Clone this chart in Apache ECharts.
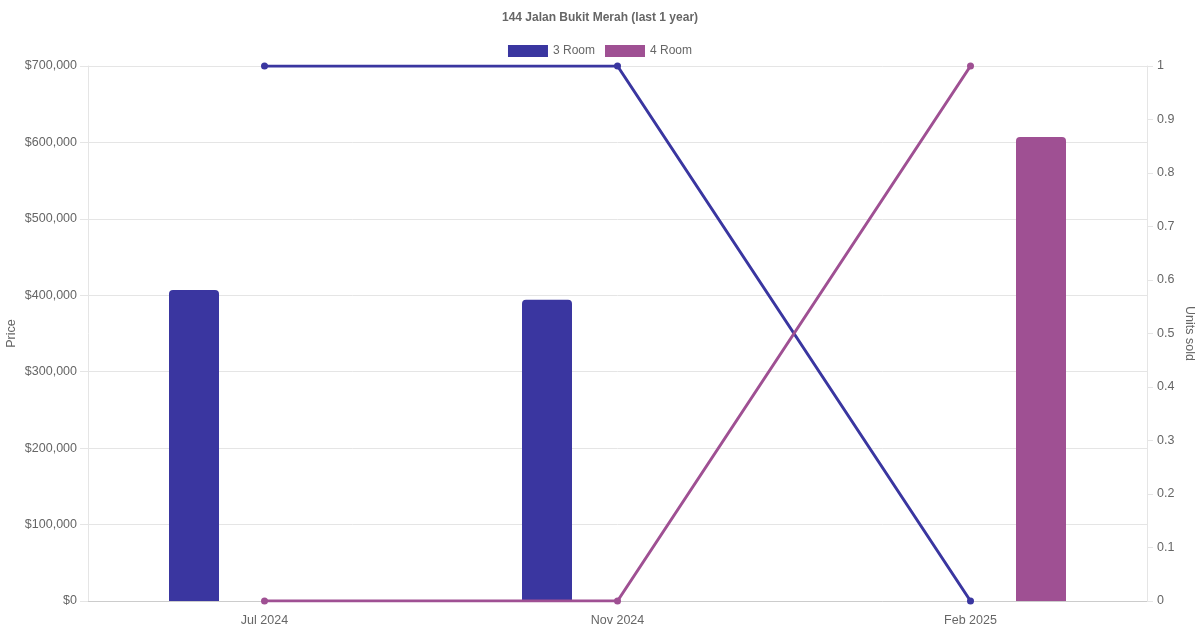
<!DOCTYPE html>
<html><head><meta charset="utf-8">
<script src="https://cdn.jsdelivr.net/npm/echarts@6/dist/echarts.min.js"></script>
<style>html,body{margin:0;padding:0;background:#fff}#c{width:1200px;height:630px}</style>
</head><body><div id="c"></div>
<script>
const title = '144 Jalan Bukit Merah (last 1 year)';
const categories = ['Jul 2024', 'Nov 2024', 'Feb 2025'];
const price3Room = [407000, 394000, null];
const price4Room = [null, null, 607000];
const units3Room = [1, 1, 0];
const units4Room = [0, 0, 1];
const priceTicks = [0, 100000, 200000, 300000, 400000, 500000, 600000, 700000];

const C3 = '#3a36a0', C4 = '#9f5093';
const font = 'Liberation Sans, Arial, sans-serif';
const chart = echarts.init(document.getElementById('c'), null, {renderer: 'canvas'});
chart.setOption({
  animation: false,
  textStyle: {fontFamily: font},
  title: {text: title, left: 'center', top: 7, textStyle: {fontSize: 12, fontWeight: 'bold', color: '#666', fontFamily: font}},
  legend: {
    top: 40, left: 'center', itemWidth: 40, itemHeight: 12, itemGap: 10,
    textStyle: {fontSize: 12, color: '#666', fontFamily: font},
    data: [{name: '3 Room', icon: 'rect'}, {name: '4 Room', icon: 'rect'}]
  },
  grid: {left: 88, right: 53, top: 66, bottom: 29, containLabel: false, outerBoundsMode: 'none'},
  xAxis: {
    type: 'category', data: categories, boundaryGap: true,
    axisLine: {lineStyle: {color: '#ccc'}}, axisTick: {show: false},
    axisLabel: {color: '#666', fontSize: 12.5, margin: 13},
    splitLine: {show: false}
  },
  yAxis: [{
    type: 'value', min: priceTicks[0], max: priceTicks[priceTicks.length - 1], interval: 100000,
    name: 'Price', nameLocation: 'middle', nameGap: 70, nameRotate: 90, nameMoveOverlap: false,
    nameTextStyle: {color: '#666', fontSize: 12.5},
    axisLine: {show: true, lineStyle: {color: '#e5e5e5'}},
    axisTick: {show: true, length: 8, lineStyle: {color: '#e5e5e5'}},
    axisLabel: {color: '#666', fontSize: 12.5, margin: 11, padding: [2, 0, 0, 0], formatter: v => '$' + v.toLocaleString('en-US')},
    splitLine: {lineStyle: {color: '#e5e5e5'}}
  }, {
    type: 'value', min: 0, max: 1, interval: 0.1, position: 'right',
    name: 'Units sold', nameLocation: 'middle', nameGap: 36, nameRotate: -90, nameMoveOverlap: false,
    nameTextStyle: {color: '#666', fontSize: 12.5},
    axisLine: {show: true, lineStyle: {color: '#e5e5e5'}},
    axisTick: {show: true, length: 6, lineStyle: {color: '#e5e5e5'}},
    axisLabel: {color: '#666', fontSize: 12.5, margin: 10, padding: [2, 0, 0, 0], formatter: v => String(Math.round(v * 10) / 10)},
    splitLine: {show: false}
  }],
  series: [
    {name: '3 Room', type: 'bar', yAxisIndex: 0, data: price3Room, barWidth: 50, barGap: '182%',
     itemStyle: {color: C3, borderRadius: [4, 4, 0, 0]}},
    {name: '4 Room', type: 'bar', yAxisIndex: 0, data: price4Room, barWidth: 50, barGap: '182%',
     itemStyle: {color: C4, borderRadius: [4, 4, 0, 0]}},
    {name: '3 Room', type: 'line', yAxisIndex: 1, data: units3Room, symbol: 'circle', symbolSize: 7,
     lineStyle: {color: C3, width: 3}, itemStyle: {color: C3}, z: 5},
    {name: '4 Room', type: 'line', yAxisIndex: 1, data: units4Room, symbol: 'circle', symbolSize: 7,
     lineStyle: {color: C4, width: 3}, itemStyle: {color: C4}, z: 5}
  ]
});
</script></body></html>
